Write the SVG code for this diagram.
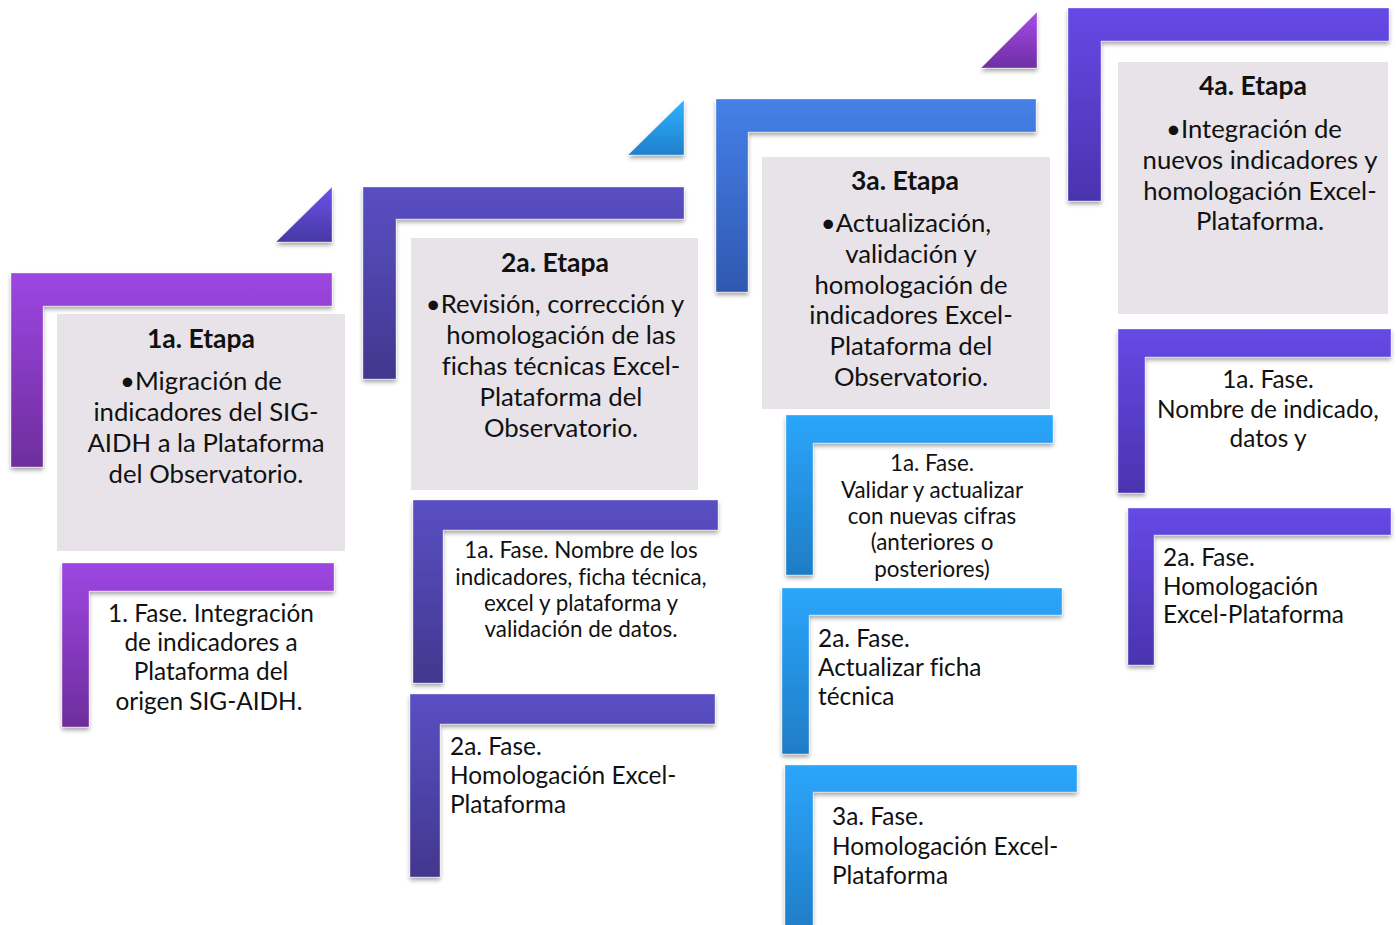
<svg xmlns="http://www.w3.org/2000/svg" width="1396" height="925" viewBox="0 0 1396 925">
<defs>
<linearGradient id="gPurple" x1="0" y1="0" x2="0" y2="1"><stop offset="0" stop-color="#9d46e2"/><stop offset="1" stop-color="#6e2e9c"/></linearGradient>
<linearGradient id="gIndigo" x1="0" y1="0" x2="0" y2="1"><stop offset="0" stop-color="#5a4fc4"/><stop offset="1" stop-color="#42378e"/></linearGradient>
<linearGradient id="gRoyal" x1="0" y1="0" x2="0" y2="1"><stop offset="0" stop-color="#4580e8"/><stop offset="1" stop-color="#2f58b0"/></linearGradient>
<linearGradient id="gViolet" x1="0" y1="0" x2="0" y2="1"><stop offset="0" stop-color="#6649e6"/><stop offset="1" stop-color="#4a33ae"/></linearGradient>
<linearGradient id="gSky" x1="0" y1="0" x2="0" y2="1"><stop offset="0" stop-color="#2ba6fb"/><stop offset="1" stop-color="#1f7cc6"/></linearGradient>
<linearGradient id="gTri1" x1="0" y1="0" x2="0" y2="1"><stop offset="0" stop-color="#6a52ea"/><stop offset="1" stop-color="#4838a4"/></linearGradient>
<linearGradient id="gTri2" x1="0" y1="0" x2="0" y2="1"><stop offset="0" stop-color="#2fb2ff"/><stop offset="1" stop-color="#1f80cc"/></linearGradient>
<linearGradient id="gTri3" x1="0" y1="0" x2="0" y2="1"><stop offset="0" stop-color="#a84ae8"/><stop offset="1" stop-color="#6e2fa4"/></linearGradient>
<filter id="sh" x="-10%" y="-10%" width="125%" height="130%"><feDropShadow dx="0" dy="3" stdDeviation="2" flood-color="#000" flood-opacity="0.35"/></filter>
</defs>
<style>
.L{stroke:#ffffff;stroke-opacity:0.35;stroke-width:1;filter:url(#sh)}
.box{fill:#e7e3e8}
.t{font-family:Lato,"Open Sans","Liberation Sans",sans-serif;fill:#111;font-variant-ligatures:none}
.h{font-size:26.5px;font-weight:bold;text-anchor:middle}
.b{font-size:25.7px;text-anchor:middle}
.s{font-size:24.4px}
.sc{font-size:24.4px;text-anchor:middle}
.xs{font-size:22.4px;text-anchor:middle}
</style>
<rect width="1396" height="925" fill="#ffffff"/>

<g id="etapa1">
<path class="L" fill="url(#gTri1)" d="M276,242 L332,187 L332,242 Z"/>
<path class="L" fill="url(#gPurple)" d="M11,273 H332 V306 H43 V467 H11 Z"/>
<rect class="box" x="57" y="314" width="288" height="237"/>
<text class="t h" x="201" y="348">1a. Etapa</text>
<text class="t b" x="201" y="390">•Migración de</text>
<text class="t b" x="206" y="421">indicadores del SIG-</text>
<text class="t b" x="206" y="452">AIDH a la Plataforma</text>
<text class="t b" x="206" y="483">del Observatorio.</text>
</g>
<g id="fase1-1">
<path class="L" fill="url(#gPurple)" d="M62,563 H334 V591 H89 V727 H62 Z"/>
<text class="t sc" x="211" y="622">1. Fase. Integración</text>
<text class="t sc" x="211" y="651">de indicadores a</text>
<text class="t sc" x="211" y="680">Plataforma del</text>
<text class="t sc" x="209" y="710">origen SIG-AIDH.</text>
</g>

<g id="etapa2">
<path class="L" fill="url(#gTri2)" d="M628,155 L684,100 L684,155 Z"/>
<path class="L" fill="url(#gIndigo)" d="M363,187 H684 V219 H396 V379 H363 Z"/>
<rect class="box" x="411" y="238" width="287" height="252"/>
<text class="t h" x="555" y="272">2a. Etapa</text>
<text class="t b" x="555" y="313">•Revisión, corrección y</text>
<text class="t b" x="561" y="344">homologación de las</text>
<text class="t b" x="561" y="375">fichas técnicas Excel-</text>
<text class="t b" x="561" y="406">Plataforma del</text>
<text class="t b" x="561" y="437">Observatorio.</text>
</g>
<g id="fase2-1">
<path class="L" fill="url(#gIndigo)" d="M413,500 H718 V530 H443 V683 H413 Z"/>
<text class="t xs" x="581" y="558">1a. Fase. Nombre de los</text>
<text class="t xs" x="581" y="585">indicadores, ficha técnica,</text>
<text class="t xs" x="581" y="611">excel y plataforma y</text>
<text class="t xs" x="581" y="637">validación de datos.</text>
</g>
<g id="fase2-2">
<path class="L" fill="url(#gIndigo)" d="M410,694 H715 V724 H440 V877 H410 Z"/>
<text class="t s" x="450" y="755">2a. Fase.</text>
<text class="t s" x="450" y="784">Homologación Excel-</text>
<text class="t s" x="450" y="813">Plataforma</text>
</g>

<g id="etapa3">
<path class="L" fill="url(#gTri3)" d="M981,68 L1037,12 L1037,68 Z"/>
<path class="L" fill="url(#gRoyal)" d="M716,99 H1036 V132 H748 V292 H716 Z"/>
<rect class="box" x="762" y="157" width="288" height="252"/>
<text class="t h" x="905" y="190">3a. Etapa</text>
<text class="t b" x="906" y="232">•Actualización,</text>
<text class="t b" x="911" y="263">validación y</text>
<text class="t b" x="911" y="294">homologación de</text>
<text class="t b" x="911" y="324">indicadores Excel-</text>
<text class="t b" x="911" y="355">Plataforma del</text>
<text class="t b" x="911" y="386">Observatorio.</text>
</g>
<g id="fase3-1">
<path class="L" fill="url(#gSky)" d="M786,415 H1053 V443 H813 V575 H786 Z"/>
<text class="t xs" x="932" y="471">1a. Fase.</text>
<text class="t xs" x="932" y="498">Validar y actualizar</text>
<text class="t xs" x="932" y="524">con nuevas cifras</text>
<text class="t xs" x="932" y="550">(anteriores o</text>
<text class="t xs" x="932" y="577">posteriores)</text>
</g>
<g id="fase3-2">
<path class="L" fill="url(#gSky)" d="M782,588 H1062 V615 H809 V754 H782 Z"/>
<text class="t s" x="818" y="647">2a. Fase.</text>
<text class="t s" x="818" y="676">Actualizar ficha</text>
<text class="t s" x="818" y="705">técnica</text>
</g>
<g id="fase3-3">
<path class="L" fill="url(#gSky)" d="M785,765 H1077 V792 H813 V935 H785 Z"/>
<text class="t s" x="832" y="825">3a. Fase.</text>
<text class="t s" x="832" y="855">Homologación Excel-</text>
<text class="t s" x="832" y="884">Plataforma</text>
</g>

<g id="etapa4">
<path class="L" fill="url(#gViolet)" d="M1068,8 H1389 V41 H1101 V201 H1068 Z"/>
<rect class="box" x="1118" y="62" width="270" height="252"/>
<text class="t h" x="1253" y="95">4a. Etapa</text>
<text class="t b" x="1254" y="138">•Integración de</text>
<text class="t b" x="1260" y="169">nuevos indicadores y</text>
<text class="t b" x="1260" y="200">homologación Excel-</text>
<text class="t b" x="1260" y="230">Plataforma.</text>
</g>
<g id="fase4-1">
<path class="L" fill="url(#gViolet)" d="M1118,329 H1391 V357 H1145 V493 H1118 Z"/>
<text class="t sc" x="1268" y="388">1a. Fase.</text>
<text class="t sc" x="1268" y="418">Nombre de indicado,</text>
<text class="t sc" x="1268" y="447">datos y</text>
</g>
<g id="fase4-2">
<path class="L" fill="url(#gViolet)" d="M1128,508 H1391 V535 H1154 V665 H1128 Z"/>
<text class="t s" x="1163" y="566">2a. Fase.</text>
<text class="t s" x="1163" y="595">Homologación</text>
<text class="t s" x="1163" y="623">Excel-Plataforma</text>
</g>
<g id="connectors"/>
</svg>
